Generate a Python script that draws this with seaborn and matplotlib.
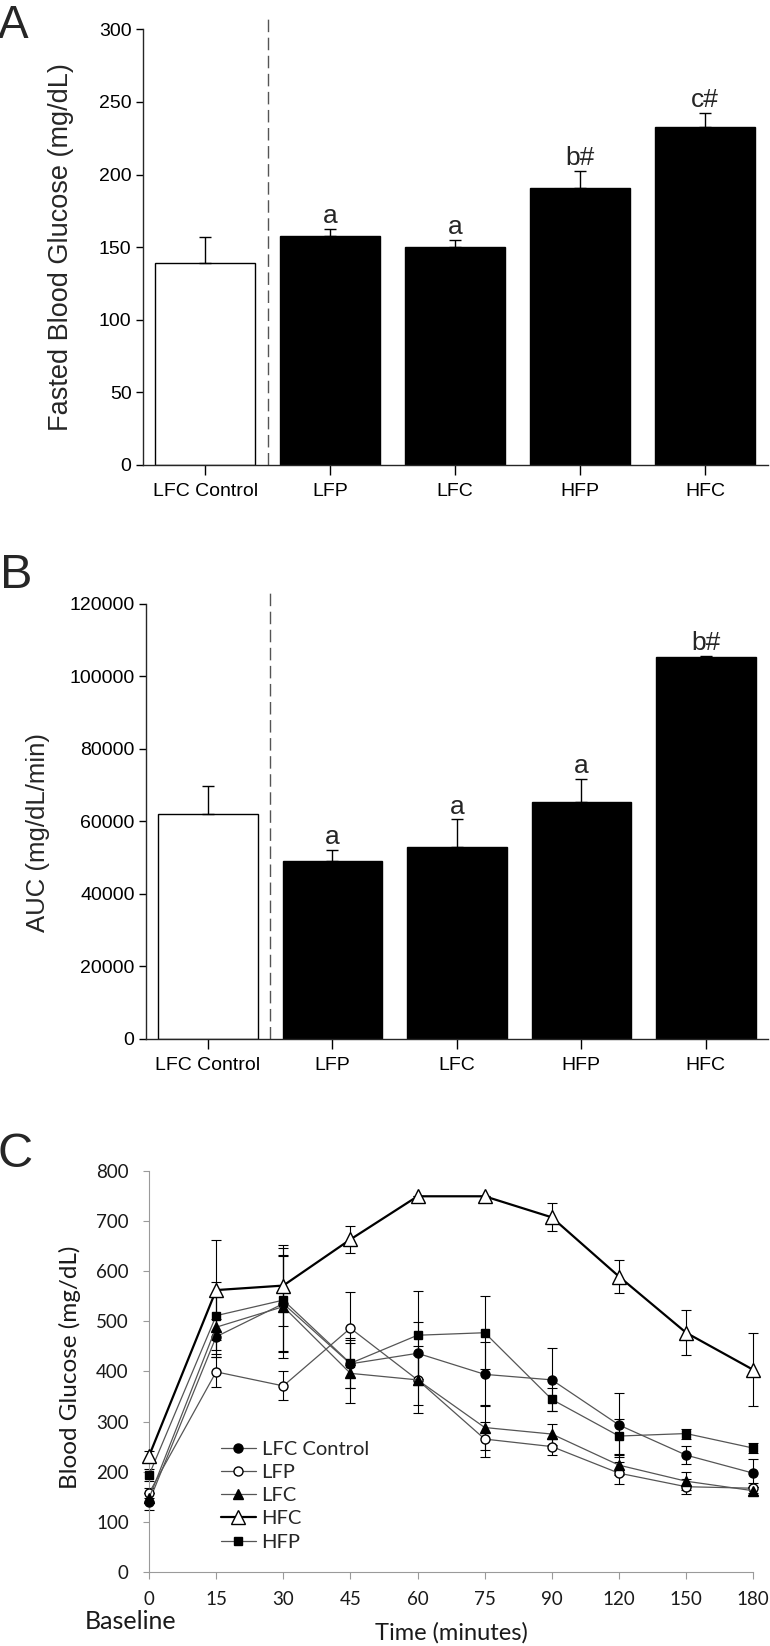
import numpy as np
import pandas as pd
import matplotlib
matplotlib.use("Agg")
import matplotlib.pyplot as plt
import seaborn as sns

# ---- data ----
groups = ["LFC Control", "LFP", "LFC", "HFP", "HFC"]
bar_colors = ["white", "black", "black", "black", "black"]

fasted_glucose = [139, 158, 150, 191, 233]
fasted_sem = [18, 4.5, 5, 11.5, 9.5]
fasted_letters = ["", "a", "a", "b#", "c#"]

auc = [62100, 49000, 52900, 65400, 105400]
auc_sem = [7700, 3200, 7700, 6400, 200]
auc_letters = ["", "a", "a", "a", "b#"]

time_labels = ["0", "15", "30", "45", "60", "75", "90", "120", "150", "180"]
lfc_control = [140, 469, 535, 415, 436, 394, 383, 293, 233, 197]
lfc_control_err = [17, 35, 95, 48, 63, 64, 63, 63, 18, 28]
lfp = [157, 399, 371, 486, 383, 265, 250, 197, 170, 167]
lfp_err = [10, 30, 29, 73, 50, 35, 16, 22, 15, 10]
lfc = [147, 488, 529, 396, 383, 288, 275, 213, 181, 162]
lfc_err = [10, 60, 103, 60, 67, 45, 21, 20, 18, 8]
hfc = [231, 562, 571, 663, 749, 749, 707, 589, 477, 403]
hfc_err = [10, 100, 80, 27, 0, 0, 28, 33, 45, 73]
hfp = [193, 511, 542, 416, 472, 477, 344, 271, 276, 247]
hfp_err = [12, 68, 103, 50, 88, 73, 23, 35, 10, 10]

sns.set_style("ticks")
regular = ["Liberation Sans", "DejaVu Sans"]
calib = ["Lato", "DejaVu Sans"]
plt.rcParams["font.family"] = regular

fig = plt.figure(figsize=(7.7, 16.46), dpi=100)


def bar_panel(ax, values, errs, letters, ylim, yticks, ylabel, label_pos, label_size):
    sns.barplot(x=groups, y=values, hue=groups, palette=bar_colors, legend=False,
                width=0.8, edgecolor="black", linewidth=1, ax=ax, zorder=2)
    # upper half error bars only
    ax.errorbar(range(len(groups)), values, yerr=[np.zeros(len(errs)), errs],
                fmt="none", ecolor="black", elinewidth=1, capsize=4.5, capthick=1, zorder=3)
    for i, txt in enumerate(letters):
        if txt:
            ax.annotate(txt, (i, values[i] + errs[i]), xytext=(0, 0.5), textcoords="offset points",
                        ha="center", va="bottom", fontsize=19)
    ax.axvline(0.5, ymin=0, ymax=1.034, clip_on=False, color="#555555", lw=1,
               ls=(0, (9, 4)), zorder=1)
    ax.set_xlim(-0.5, 4.5)
    ax.set_ylim(*ylim)
    ax.set_yticks(yticks)
    sns.despine(ax=ax)
    ax.tick_params(axis="both", direction="out", width=1, colors="black", labelsize=14)
    ax.tick_params(axis="y", length=5, pad=3)
    ax.tick_params(axis="x", length=7, pad=6)
    ax.set_xlabel("")
    ax.set_ylabel(ylabel, fontsize=label_size)
    ax.yaxis.set_label_coords(*label_pos)
    for s in ax.spines.values():
        s.set_linewidth(1)


# ---- A ----
axA = fig.add_axes([0.1853, 0.7175, 0.8117, 0.2647])
bar_panel(axA, fasted_glucose, fasted_sem, fasted_letters, (0, 300),
          np.arange(0, 301, 50), "Fasted Blood Glucose (mg/dL)", (-0.110, 0.5), 19.5)

# ---- B ----
axB = fig.add_axes([0.1892, 0.3688, 0.8083, 0.2643])
bar_panel(axB, auc, auc_sem, auc_letters, (0, 120000),
          np.arange(0, 120001, 20000), "AUC (mg/dL/min)", (-0.154, 0.475), 18.5)

# ---- C ----
axC = fig.add_axes([0.1935, 0.04496, 0.7848, 0.2438])
ogtt = pd.DataFrame({
    "pos": np.tile(np.arange(len(time_labels)), 5),
    "glucose": lfc_control + lfp + lfc + hfc + hfp,
    "err": lfc_control_err + lfp_err + lfc_err + hfc_err + hfp_err,
    "group": np.repeat(["LFC Control", "LFP", "LFC", "HFC", "HFP"], len(time_labels)),
})
line_grey = "#555555"
styles = {
    "LFC Control": dict(marker="o", ms=6.5, mfc="black", color=line_grey, lw=0.9),
    "LFP": dict(marker="o", ms=6.5, mfc="white", color=line_grey, lw=0.9),
    "LFC": dict(marker="^", ms=7, mfc="black", color=line_grey, lw=0.9),
    "HFC": dict(marker="^", ms=9.5, mfc="white", color="black", lw=1.6),
    "HFP": dict(marker="s", ms=6.3, mfc="black", color=line_grey, lw=0.9),
}
handles = {}
for name in ["LFC Control", "LFP", "LFC", "HFP", "HFC"]:
    sub = ogtt[ogtt["group"] == name]
    st = styles[name]
    axC.errorbar(sub["pos"], sub["glucose"], yerr=sub["err"], fmt="none", ecolor="black",
                 elinewidth=0.8, capsize=3.4, capthick=0.8, zorder=2, clip_on=False)
    sns.lineplot(x=sub["pos"].values, y=sub["glucose"].values, ax=axC, color=st["color"],
                 linewidth=st["lw"], marker=st["marker"], markersize=st["ms"],
                 markerfacecolor=st["mfc"], markeredgecolor="black", markeredgewidth=1,
                 zorder=3, clip_on=False)
    handles[name] = axC.lines[-1]

axC.set_xlim(0, 9)
axC.set_ylim(0, 800)
axC.set_xticks(range(len(time_labels)))
axC.set_xticklabels(time_labels)
axC.set_yticks(np.arange(0, 801, 100))
sns.despine(ax=axC)
for s in ["left", "bottom"]:
    axC.spines[s].set_color("#9a9a9a")
    axC.spines[s].set_linewidth(0.8)
axC.tick_params(axis="both", direction="out", color="#9a9a9a", width=0.8,
                labelsize=13.5, labelcolor="#1a1a1a")
axC.tick_params(axis="y", length=4.5, pad=10)
axC.tick_params(axis="x", length=5, pad=9)
for lab in axC.get_xticklabels() + axC.get_yticklabels():
    lab.set_family(calib)
axC.set_ylabel("Blood Glucose (mg/dL)", fontsize=17.5, family=calib, color="#1a1a1a")
axC.yaxis.set_label_coords(-0.112, 0.511)
axC.set_xlabel("")
axC.text(-0.27, -0.124, "Baseline", transform=axC.get_xaxis_transform(), ha="center",
         va="center", fontsize=18, family=calib, color="#1a1a1a")
axC.text(4.5, -0.152, "Time (minutes)", transform=axC.get_xaxis_transform(), ha="center",
         va="center", fontsize=17, family=calib, color="#1a1a1a")
legend_order = ["LFC Control", "LFP", "LFC", "HFC", "HFP"]
axC.legend([handles[n] for n in legend_order], legend_order, loc="center left",
           bbox_to_anchor=(0.1187, 0.19), frameon=False, handlelength=1.75,
           handletextpad=0.28, labelspacing=0.3, borderaxespad=0, borderpad=0,
           prop={"family": calib, "size": 14.5})

# ---- panel letters ----
fig.text(-0.003, 1 - 38 / 1646, "A", fontsize=33, va="baseline", ha="left")
fig.text(0.0, 1 - 588 / 1646, "B", fontsize=35, va="baseline", ha="left")
fig.text(-0.003, 1 - 1167 / 1646, "C", fontsize=35, va="baseline", ha="left")

fig.savefig("out.png", dpi=100)
